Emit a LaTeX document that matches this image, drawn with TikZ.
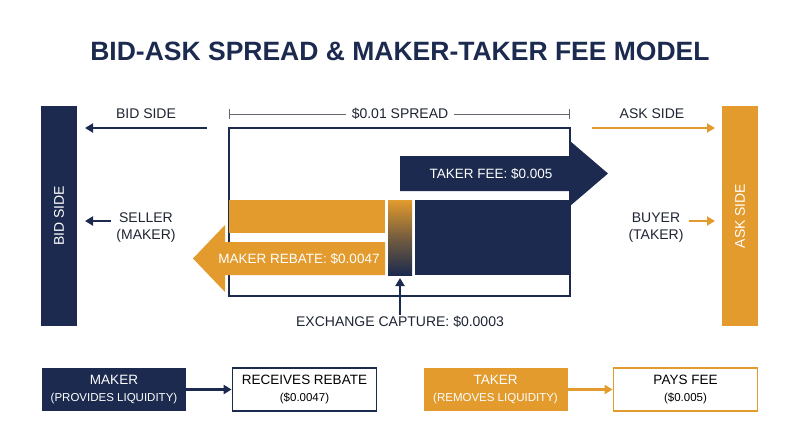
\documentclass[tikz,border=0pt]{standalone}
\usepackage{fontspec}
\setmainfont{Liberation Sans}
\usepackage{xcolor}
\usepackage{tikz}
\usetikzlibrary{arrows.meta}
\definecolor{navy}{HTML}{1B2A4E}
\definecolor{amber}{HTML}{E39B2D}
\definecolor{ink}{HTML}{1E2433}
\newcommand{\subline}[1]{{\fontsize{11.5}{13}\selectfont #1}}

\begin{document}
\begin{tikzpicture}[
      x=1pt, y=-1pt,
      lbl/.style={font=\fontsize{14}{17}\selectfont, text=ink, align=center, inner sep=1pt},
      inlbl/.style={font=\fontsize{13.5}{16}\selectfont, text=white, inner sep=0pt},
      sidebar/.style={minimum width=220pt, minimum height=36pt, inner sep=0pt,
                      text=white, font=\fontsize{14}{17}\selectfont, rotate=90},
      keybox/.style={minimum width=144pt, minimum height=43pt, inner sep=0pt,
                     align=center, font=\fontsize{13.5}{15}\selectfont},
      arr/.style={-{Triangle[length=8pt,width=9pt]}, line width=2.2pt}
    ]
    \useasboundingbox (0,0) rectangle (800,447);

    \node[font=\bfseries\fontsize{26.5}{30}\selectfont, text=navy] (title) at (400,51)
      {BID-ASK SPREAD \& MAKER-TAKER FEE MODEL};

    % side bars
    \node[sidebar, fill=navy]  (bidbar) at (59,216)  {BID SIDE};
    \node[sidebar, fill=amber] (askbar) at (740,216) {ASK SIDE};

    % spread box
    \draw[navy, line width=2pt] (229,128) rectangle (570,296);
    \coordinate (spl) at (229,114);
    \coordinate (spr) at (570,114);
    \draw[{Bar[width=10pt]}-{Bar[width=10pt]}, ink!70, line width=0.8pt] (spl) -- (spr);
    \node[lbl, fill=white, inner xsep=6pt] (spread) at (400,114) {\$0.01 SPREAD};

    \fill[navy] (400,156) -- (570,156) -- (570,141) -- (608,173.5) -- (570,206)
                -- (570,191) -- (400,191) -- cycle;
    \fill[amber] (229,200) rectangle (385,233);
    \fill[amber] (385,242) -- (225,242) -- (225,225) -- (193,258.5) -- (225,292)
                 -- (225,275) -- (385,275) -- cycle;
    \shade[top color=amber, bottom color=navy, middle color=amber!45!navy]
          (388,200) rectangle (412,275);
    \fill[navy] (415,200) rectangle (570,275);

    \node[inlbl] (takerfee)  at (491,173.5) {TAKER FEE: \$0.005};
    \node[inlbl] (makerreb)  at (299,258.5) {MAKER REBATE: \$0.0047};
    \node[lbl]   (capture)   at (400,322)   {EXCHANGE CAPTURE: \$0.0003};
    \coordinate (capgap) at (400,278);
    \draw[arr, navy] (capture) -- (capgap);

    % side arrows
    \node[lbl] (bidlbl)  at (146,114) {BID SIDE};
    \node[lbl] (asklbl)  at (652,114) {ASK SIDE};
    \node[lbl] (seller)  at (146,228) {SELLER\\(MAKER)};
    \node[lbl] (buyer)   at (656,228) {BUYER\\(TAKER)};
    \coordinate (bidfrom) at (207,128);
    \coordinate (bidto)   at (85,128);
    \coordinate (askfrom) at (592,128);
    \coordinate (askto)   at (715,128);
    \coordinate (sellto)  at (85,221);
    \coordinate (buyto)   at (715,221);
    \draw[arr, navy]  (bidfrom) -- (bidto);
    \draw[arr, amber] (askfrom) -- (askto);
    \draw[arr, navy]  (seller.west |- sellto) ++(-4,0) -- (sellto);
    \draw[arr, amber] (buyer.east |- buyto) ++(4,0) -- (buyto);

    % legend
    \node[keybox, fill=navy, text=white] (maker) at (114,389.5)
      {MAKER\\[2pt]\subline{(PROVIDES LIQUIDITY)}};
    \node[keybox, draw=navy, line width=1.8pt] (rebate) at (304.5,389.5)
      {RECEIVES REBATE\\[2pt]\subline{(\$0.0047)}};
    \node[keybox, fill=amber, text=white] (taker) at (495.5,389.5)
      {TAKER\\[2pt]\subline{(REMOVES LIQUIDITY)}};
    \node[keybox, draw=amber, line width=1.8pt] (payfee) at (685.5,389.5)
      {PAYS FEE\\[2pt]\subline{(\$0.005)}};
    \draw[arr, navy]  (maker) -- (rebate);
    \draw[arr, amber] (taker) -- (payfee);
  \end{tikzpicture}
\end{document}
